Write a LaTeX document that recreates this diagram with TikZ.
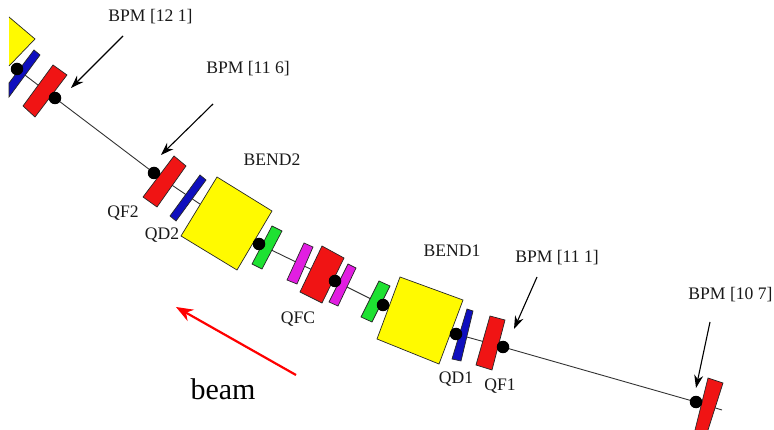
\documentclass[tikz,border=0pt]{standalone}
\usepackage{fontspec}
\setmainfont{Liberation Serif}
\usetikzlibrary{arrows.meta}
\definecolor{elyellow}{RGB}{255,250,0}
\definecolor{elred}{RGB}{240,20,20}
\definecolor{elblue}{RGB}{15,15,190}
\definecolor{elgreen}{RGB}{30,225,50}
\definecolor{elmag}{RGB}{225,30,225}
\tikzset{
  x=1pt,y=-1pt,
  element/.style={draw=black!85,line width=0.7pt,line join=miter},
  bendbox/.style={element,fill=elyellow},
  qfbox/.style={element,fill=elred},
  qdbox/.style={element,fill=elblue},
  grbox/.style={element,fill=elgreen},
  mgbox/.style={element,fill=elmag},
  bpmdot/.style={circle,fill=black,inner sep=0pt,minimum size=12.5pt},
  lab/.style={font=\fontsize{17.6}{20}\selectfont,inner sep=0pt,text=black!90,yshift=-1.7pt},
  beamline/.style={draw=black!80,line width=0.9pt},
  ptr/.style={draw=black,line width=1.1pt,-{Stealth[length=13pt,width=9pt]}},
  redptr/.style={draw=red,line width=2.2pt,-{Stealth[length=17pt,width=13pt]}}
}
\begin{document}
\begin{tikzpicture}
\useasboundingbox (0,0) rectangle (774,430);
% beam line
\coordinate (d0) at (17,69);
\coordinate (d1) at (55,98);
\coordinate (d2) at (154,173);
\coordinate (d3) at (259,244);
\coordinate (d4) at (335,281);
\coordinate (d5) at (383,305);
\coordinate (d6) at (456,334);
\coordinate (d7) at (503,347);
\coordinate (d8) at (696,402);
\coordinate (dend) at (722,410);
\draw[beamline] (d0)--(d1)--(d2)--(d3)--(d4)--(d5)--(d6)--(d7)--(d8)--(dend);
% elements
\fill[elyellow] (9,17)--(35,39)--(9,66)--cycle;
\draw[element] (9,17)--(35,39)--(9,66);
\draw[qdbox] (34,50)--(40,55)--(9,97)--(9,83)--cycle;
\draw[qfbox] (53,65)--(67,75)--(35,117)--(23,106)--cycle;
\draw[qfbox] (174,156)--(186,166)--(157,207)--(143,197)--cycle;
\draw[qdbox] (200,175)--(206,180)--(176,221)--(170,216)--cycle;
\draw[bendbox] (217,177)--(272,211)--(237,270)--(181,236)--cycle;
\draw[grbox] (272,226)--(282,231)--(262,269)--(252,264)--cycle;
\draw[mgbox] (304,243)--(313,247)--(297,284)--(287,280)--cycle;
\draw[qfbox] (322,246)--(344,258)--(322,303)--(300,292)--cycle;
\draw[mgbox] (348,264)--(356,268)--(338,306)--(329,302)--cycle;
\draw[grbox] (379,281)--(390,286)--(372,322)--(361,317)--cycle;
\draw[bendbox] (400,277)--(463,300)--(439,364)--(377,339)--cycle;
\draw[qdbox] (467,309)--(473,311)--(461,361)--(452,359)--cycle;
\draw[qfbox] (490,316)--(505,320)--(492,370)--(476,365)--cycle;
\fill[elred] (708,378)--(723,383)--(708,430)--(695,430)--cycle;
\draw[element] (695,430)--(708,378)--(723,383)--(708,430);
% dots
\node[bpmdot] (n0) at (d0) {};
\node[bpmdot] (n1) at (d1) {};
\node[bpmdot] (n2) at (d2) {};
\node[bpmdot] (n3) at (d3) {};
\node[bpmdot] (n4) at (d4) {};
\node[bpmdot] (n5) at (d5) {};
\node[bpmdot] (n6) at (d6) {};
\node[bpmdot] (n7) at (d7) {};
\node[bpmdot] (n8) at (d8) {};
% labels
\node[lab] (l121) at (150.5,15) {BPM [12 1]};
\node[lab] (l116) at (248,67) {BPM [11 6]};
\node[lab] (lb2) at (272,158) {BEND2};
\node[lab] (lqf2) at (123,211) {QF2};
\node[lab] (lqd2) at (162,233) {QD2};
\node[lab] (lqfc) at (298,317) {QFC};
\node[lab] (lb1) at (452,249) {BEND1};
\node[lab] (l111) at (557,256) {BPM [11 1]};
\node[lab] (lqd1) at (456,377) {QD1};
\node[lab] (lqf1) at (500,384) {QF1};
\node[lab] (l107) at (730.5,293) {BPM [10 7]};
\node[font=\fontsize{30}{34}\selectfont,inner sep=0pt] (lbeam) at (223,389) {beam};
% pointers
\coordinate (a1s) at (123,36); \coordinate (a1e) at (71,88);
\coordinate (a2s) at (213,104); \coordinate (a2e) at (161,155);
\coordinate (a3s) at (537,277); \coordinate (a3e) at (514,329);
\coordinate (a4s) at (710,322); \coordinate (a4e) at (696,388);
\coordinate (bs) at (296,375); \coordinate (be) at (176,307);
\draw[ptr] (a1s)--(a1e);
\draw[ptr] (a2s)--(a2e);
\draw[ptr] (a3s)--(a3e);
\draw[ptr] (a4s)--(a4e);
\draw[redptr] (bs)--(be);
\end{tikzpicture}
\end{document}
